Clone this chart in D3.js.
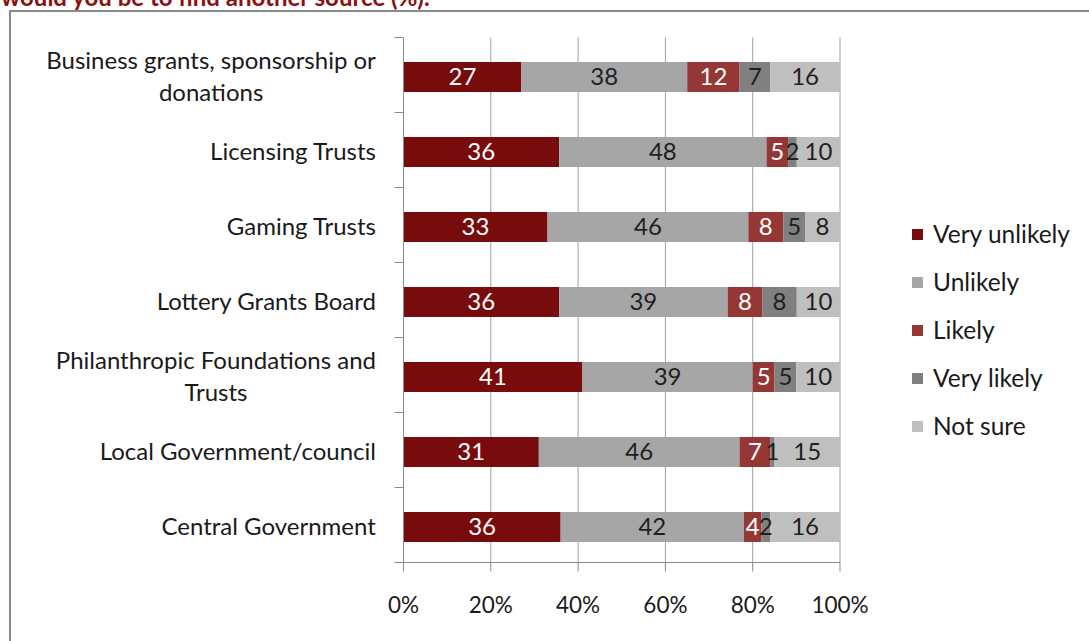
<!DOCTYPE html>
<html>
<head>
<meta charset="utf-8">
<script src="https://cdn.jsdelivr.net/npm/d3@7"></script>
<style>
  html, body { margin: 0; padding: 0; background: #fff; }
  svg { display: block; }
  text { font-family: Lato, "Open Sans", sans-serif; }
</style>
</head>
<body>
<svg id="chart" width="1089" height="641"></svg>
<script>
// Funding sources (top to bottom)
const categories = [
  ["Business grants, sponsorship or", "donations"],
  ["Licensing Trusts"],
  ["Gaming Trusts"],
  ["Lottery Grants  Board"],
  ["Philanthropic Foundations and", "Trusts"],
  ["Local Government/council"],
  ["Central Government"]
];

// Response shares (%) per source
const veryUnlikely = [27, 36, 33, 36, 41, 31, 36];
const unlikely     = [38, 48, 46, 39, 39, 46, 42];
const likely       = [12,  5,  8,  8,  5,  7,  4];
const veryLikely   = [ 7,  2,  5,  8,  5,  1,  2];
const notSure      = [16, 10,  8, 10, 10, 15, 16];

const seriesNames = ["Very unlikely", "Unlikely", "Likely", "Very likely", "Not sure"];
const seriesColors = ["#780c0c", "#a6a6a6", "#953735", "#808080", "#bfbfbf"];
const labelColors  = ["#ffffff", "#1f1f1f", "#ffffff", "#1f1f1f", "#1f1f1f"];
const tickValues = [0, 0.2, 0.4, 0.6, 0.8, 1];

const seriesValues = [veryUnlikely, unlikely, likely, veryLikely, notSure];
const rows = categories.map((c, i) => {
  const r = { key: i };
  seriesNames.forEach((s, j) => { r[s] = seriesValues[j][i]; });
  return r;
});

const svg = d3.select("#chart");

// Title line running above the frame
svg.append("text")
  .attr("x", 1).attr("y", 6)
  .attr("fill", "#8b1010")
  .attr("font-weight", "bold")
  .attr("font-size", 24)
  .text("would you be to find another source (%).");

// Chart frame
svg.append("rect")
  .attr("x", 10).attr("y", 11)
  .attr("width", 1100).attr("height", 700)
  .attr("fill", "#fff")
  .attr("stroke", "#8a8a8a")
  .attr("stroke-width", 2);

const plot = { left: 403.5, right: 840, top: 37.5, bottom: 562.5 };

const x = d3.scaleLinear().domain([0, 1]).range([plot.left, plot.right]);
const y = d3.scaleBand()
  .domain(d3.range(categories.length))
  .range([plot.top, plot.bottom])
  .paddingInner(0.6).paddingOuter(0.3);

const stack = d3.stack()
  .keys(seriesNames)
  .offset(d3.stackOffsetExpand);
const stacked = stack(rows);

// Vertical gridlines
svg.append("g")
  .selectAll("line")
  .data(tickValues.slice(1))
  .join("line")
  .attr("x1", d => x(d)).attr("x2", d => x(d))
  .attr("y1", plot.top).attr("y2", plot.bottom)
  .attr("stroke", "#a0a0a0")
  .attr("stroke-width", 1);

// Bars
const layers = svg.append("g")
  .selectAll("g")
  .data(stacked)
  .join("g")
  .attr("fill", (d, i) => seriesColors[i]);

layers.selectAll("rect")
  .data(d => d)
  .join("rect")
  .attr("x", d => x(d[0]))
  .attr("width", d => x(d[1]) - x(d[0]))
  .attr("y", (d, i) => y(i) + 2)
  .attr("height", y.bandwidth());

// Value labels
svg.append("g")
  .selectAll("g")
  .data(stacked)
  .join("g")
  .attr("fill", (d, i) => labelColors[i])
  .selectAll("text")
  .data(d => d.map((p, i) => ({ p, i, v: p.data[d.key] })))
  .join("text")
  .attr("x", d => (x(d.p[0]) + x(d.p[1])) / 2)
  .attr("y", d => y(d.i) + 2 + y.bandwidth() / 2)
  .attr("dy", "0.35em")
  .attr("text-anchor", "middle")
  .attr("font-size", 24)
  .text(d => d.v);

// Category axis
const yAxis = svg.append("g").attr("transform", `translate(${plot.left},0)`);
yAxis.append("line")
  .attr("x1", 0).attr("x2", 0)
  .attr("y1", plot.top).attr("y2", plot.bottom)
  .attr("stroke", "#8a8a8a");
yAxis.selectAll("line.tick")
  .data(d3.range(categories.length + 1))
  .join("line")
  .attr("class", "tick")
  .attr("x1", -9).attr("x2", 0)
  .attr("y1", i => plot.top + i * (plot.bottom - plot.top) / categories.length)
  .attr("y2", i => plot.top + i * (plot.bottom - plot.top) / categories.length)
  .attr("stroke", "#8a8a8a");

const lineGap = 32;
const labelRight = 376;
categories.forEach((lines, i) => {
  const cy = y(i) + 2 + y.bandwidth() / 2;
  const t = svg.append("text")
    .attr("font-size", 24)
    .attr("fill", "#1a1a1a")
    .attr("text-anchor", "middle");
  lines.forEach((ln, k) => {
    t.append("tspan")
      .attr("x", 0)
      .attr("y", cy + (k - (lines.length - 1) / 2) * lineGap)
      .attr("dy", "0.35em")
      .text(ln);
  });
  // center the lines within a block whose right edge sits at labelRight
  const w = t.node().getBBox().width;
  t.selectAll("tspan").attr("x", labelRight - w / 2);
});

// Value axis
const xAxis = svg.append("g").attr("transform", `translate(0,${plot.bottom})`);
xAxis.append("line")
  .attr("x1", plot.left).attr("x2", plot.right)
  .attr("stroke", "#8a8a8a");
xAxis.selectAll("line.tick")
  .data(tickValues)
  .join("line")
  .attr("class", "tick")
  .attr("x1", d => x(d)).attr("x2", d => x(d))
  .attr("y1", 0).attr("y2", 9)
  .attr("stroke", "#8a8a8a");
xAxis.selectAll("text")
  .data(tickValues)
  .join("text")
  .attr("x", d => x(d))
  .attr("y", 43)
  .attr("dy", "0.35em")
  .attr("text-anchor", "middle")
  .attr("font-size", 22.5)
  .attr("fill", "#1a1a1a")
  .text(d3.format(".0%"));

// Legend
const legend = svg.append("g").attr("transform", "translate(912,234)");
const item = legend.selectAll("g")
  .data(seriesNames)
  .join("g")
  .attr("transform", (d, i) => `translate(0,${i * 48})`);
item.append("rect")
  .attr("x", 0).attr("y", -5)
  .attr("width", 11).attr("height", 11)
  .attr("fill", (d, i) => seriesColors[i]);
item.append("text")
  .attr("x", 21).attr("y", 0)
  .attr("dy", "0.35em")
  .attr("font-size", 24.5)
  .attr("fill", "#1a1a1a")
  .text(d => d);
</script>
</body>
</html>
